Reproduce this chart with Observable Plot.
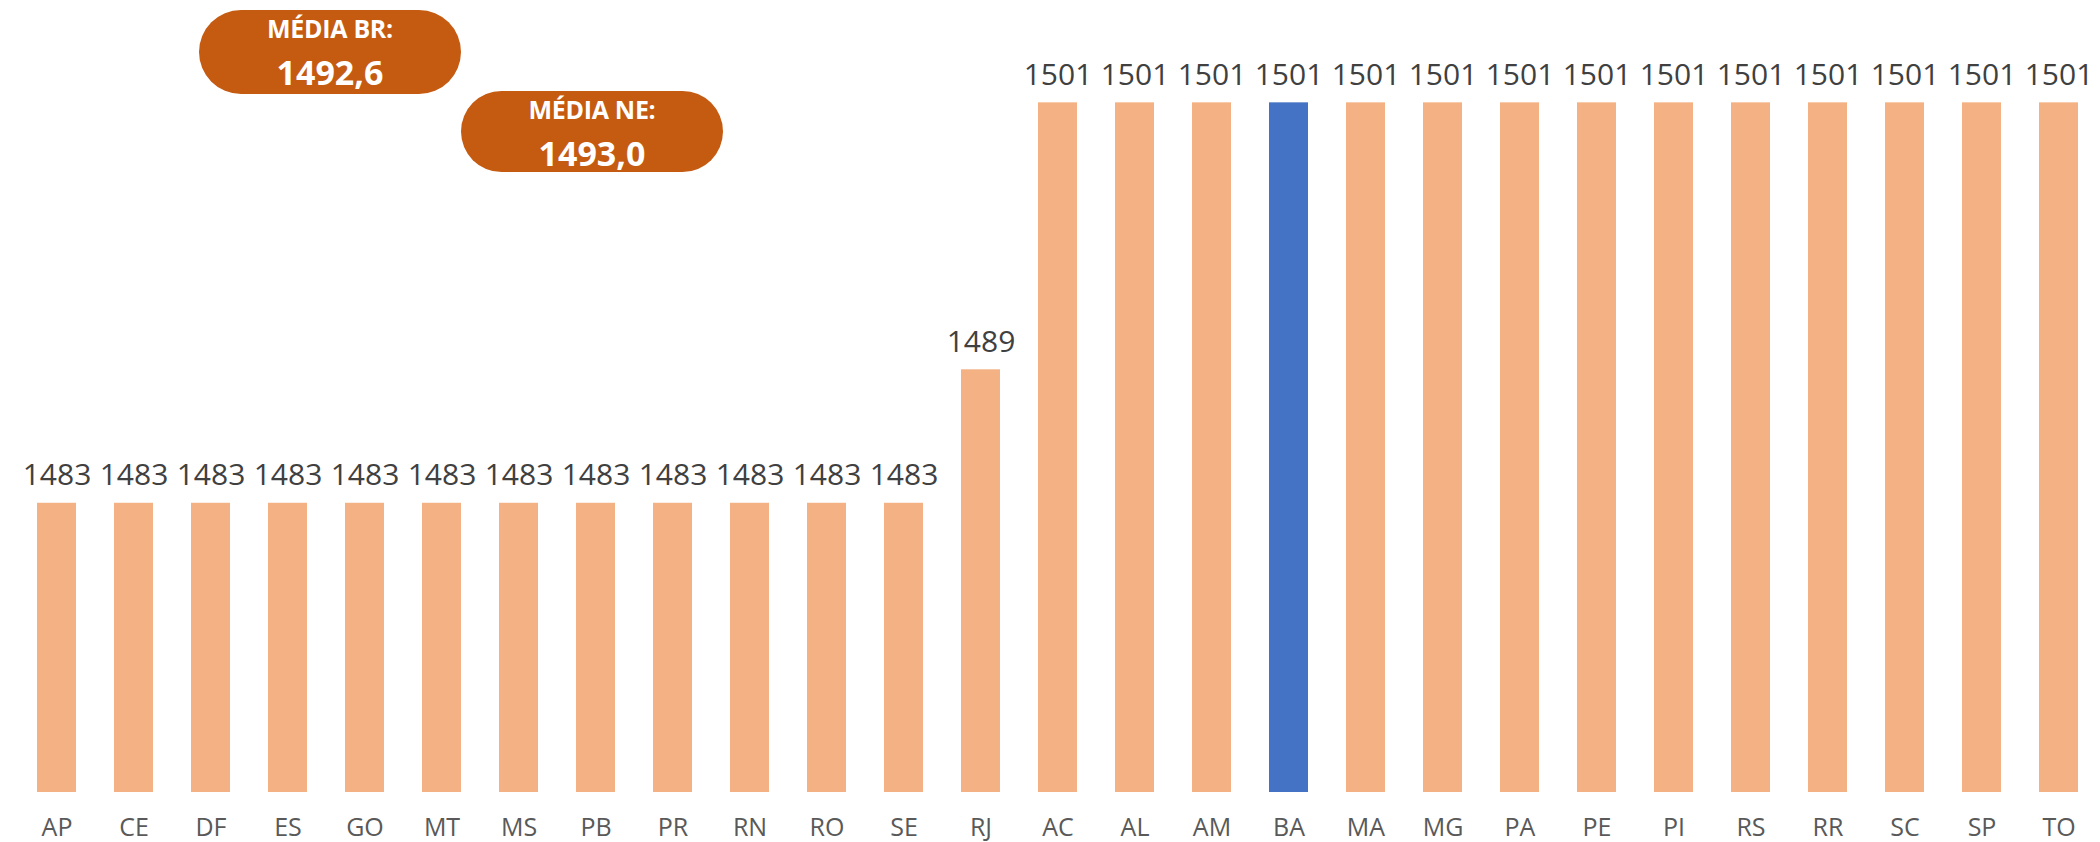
<!DOCTYPE html>
<html>
<head>
<meta charset="utf-8">
<script src="https://cdn.jsdelivr.net/npm/d3@7"></script>
<script src="https://cdn.jsdelivr.net/npm/@observablehq/plot@0.6"></script>
<style>
  html, body { margin: 0; padding: 0; background: #fff; }
  #wrap { position: relative; width: 2100px; height: 842px; overflow: hidden; }
  .badge {
    position: absolute; background: #C55A11; color: #fff;
    border-radius: 42px; font-family: "Open Sans", sans-serif; font-weight: 700;
    text-align: center; box-sizing: border-box;
  }
  .badge .l1 { position: absolute; left: 0; right: 0; top: 6px; font-size: 25px; line-height: 25px; letter-spacing: -0.3px; white-space: nowrap; }
  .badge .l2 { position: absolute; left: 0; right: 0; top: 45px; font-size: 34px; line-height: 34px; white-space: nowrap; }
</style>
</head>
<body>
<div id="wrap">
  <div id="chart"></div>
</div>
<script>
const states = ["AP","CE","DF","ES","GO","MT","MS","PB","PR","RN","RO","SE","RJ","AC","AL","AM","BA","MA","MG","PA","PE","PI","RS","RR","SC","SP","TO"];
const values = [1483,1483,1483,1483,1483,1483,1483,1483,1483,1483,1483,1483,1489,1501,1501,1501,1501,1501,1501,1501,1501,1501,1501,1501,1501,1501,1501];
const highlight = "BA";
const badgeLabels = ["MÉDIA BR:", "MÉDIA NE:"];
const badgeValues = ["1492,6", "1493,0"];

const data = states.map((s, i) => ({state: s, value: values[i]}));

const chart = Plot.plot({
  width: 2100,
  height: 842,
  marginTop: 0,
  marginBottom: 50,
  marginLeft: 17,
  marginRight: 2,
  style: {background: "#fff", fontFamily: "'Open Sans', sans-serif"},
  x: {domain: states, paddingInner: 0.5, paddingOuter: 0.2, label: null},
  y: {domain: [1470, 1505.6], axis: null},
  marks: [
    Plot.barY(data, {x: "state", y1: 1470, y2: "value", fill: d => d.state === highlight ? "#4472C4" : "#F4B183"}),
    Plot.text(data, {x: "state", y: "value", text: d => String(d.value), lineAnchor: "bottom", dy: -18, fontSize: 30, fill: "#404040"}),
    Plot.axisX({tickSize: 0, tickPadding: 26, fontSize: 25, color: "#595959", label: null})
  ]
});
document.getElementById("chart").appendChild(chart);

const badgeBoxes = [
  {left: 199, top: 10, width: 262, height: 84},
  {left: 461, top: 91, width: 262, height: 81}
];
const wrap = document.getElementById("wrap");
badgeLabels.forEach((lab, i) => {
  const b = document.createElement("div");
  b.className = "badge";
  const box = badgeBoxes[i];
  Object.assign(b.style, {left: box.left + "px", top: box.top + "px", width: box.width + "px", height: box.height + "px"});
  const l1 = document.createElement("div"); l1.className = "l1"; l1.textContent = lab;
  const l2 = document.createElement("div"); l2.className = "l2"; l2.textContent = badgeValues[i];
  b.appendChild(l1); b.appendChild(l2);
  wrap.appendChild(b);
});
</script>
</body>
</html>
